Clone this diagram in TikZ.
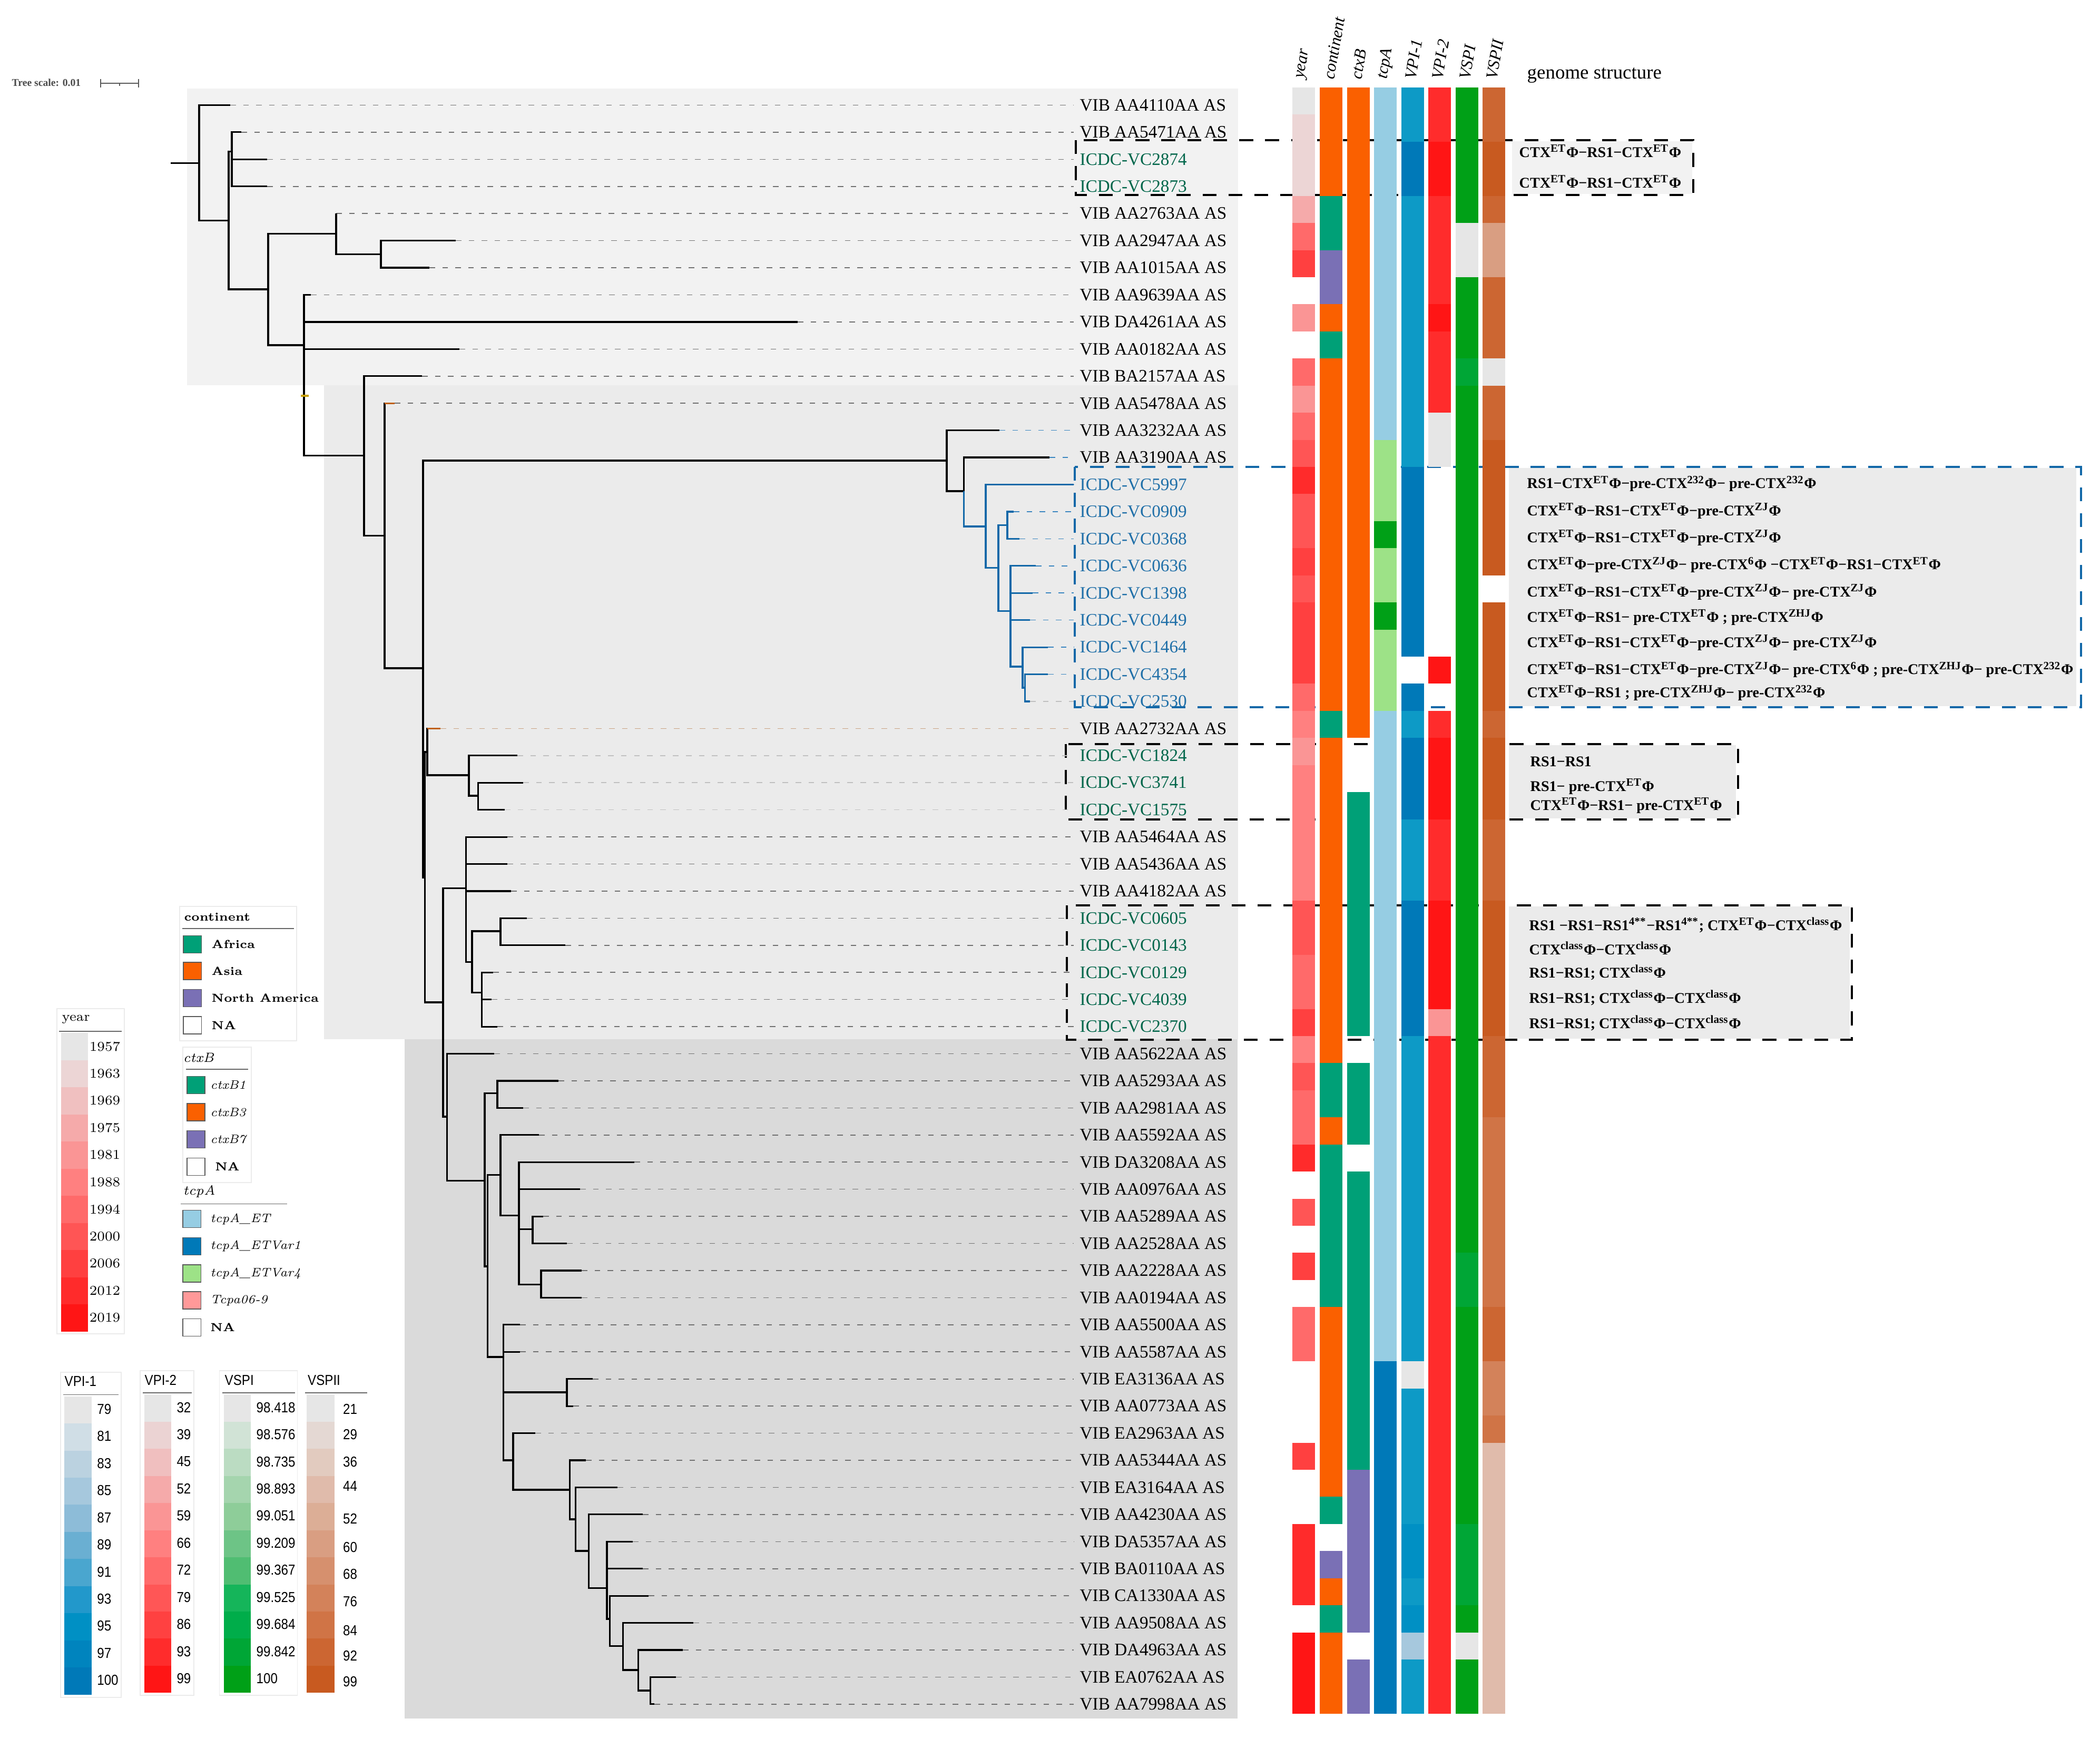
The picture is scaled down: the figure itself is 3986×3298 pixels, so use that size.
\documentclass[tikz,border=0pt]{standalone}
\usepackage{fontspec}
\newfontfamily\labfont{Liberation Serif}
\newfontfamily\legsans[FakeStretch=0.88]{Liberation Sans}
\newcommand\ctxphi[1]{CTX\textsuperscript{#1}Φ}
\newcommand\prephi[1]{pre-CTX\textsuperscript{#1}Φ}
\newcommand\hmrun[4]{\fill[fill=#4] (#1,{166+(#2-1)*51.43}) rectangle ({#1+43},{166+#3*51.43});}
\definecolor{bgA}{HTML}{F2F2F2}
\definecolor{bgB}{HTML}{EBEBEB}
\definecolor{bgC}{HTML}{DADADA}
\definecolor{icdcg}{HTML}{00664A}
\definecolor{icdcb}{HTML}{1F6FA8}
\definecolor{clb}{HTML}{1268A8}
\definecolor{brn}{HTML}{C06010}
\definecolor{ylw}{HTML}{C8A000}
\definecolor{ldk}{HTML}{707070}
\definecolor{ldb}{HTML}{3A86C0}
\definecolor{ldt}{HTML}{C8A080}
\definecolor{ldl}{HTML}{C0C0C0}
% year scale
\definecolor{yr1}{HTML}{E6E6E6}\definecolor{yr2}{HTML}{ECD5D5}\definecolor{yr3}{HTML}{F0C0C0}
\definecolor{yr4}{HTML}{F5AAAA}\definecolor{yr5}{HTML}{FA9595}\definecolor{yr6}{HTML}{FF8080}
\definecolor{yr7}{HTML}{FF6A6A}\definecolor{yr8}{HTML}{FF5555}\definecolor{yr9}{HTML}{FF4040}
\definecolor{yr10}{HTML}{FF2B2B}\definecolor{yr11}{HTML}{FF1515}
% categories
\definecolor{caf}{HTML}{00A077}\definecolor{cas}{HTML}{FA6000}\definecolor{cna}{HTML}{7A70B5}
\definecolor{tET}{HTML}{96CDE3}\definecolor{tV1}{HTML}{0079B8}\definecolor{tV4}{HTML}{9DE287}
\definecolor{tDG}{HTML}{00A017}\definecolor{tP}{HTML}{FF9999}
% VPI-1
\definecolor{hb}{HTML}{0D9AC6}
\definecolor{vb1}{HTML}{E6E6E6}\definecolor{vb2}{HTML}{D0DEE6}\definecolor{vb3}{HTML}{BBD2E0}
\definecolor{vb4}{HTML}{A6C8DD}\definecolor{vb5}{HTML}{8DBCD8}\definecolor{vb6}{HTML}{6AAFD2}
\definecolor{vb7}{HTML}{4AA6CF}\definecolor{vb8}{HTML}{2298CB}\definecolor{vb9}{HTML}{0090C4}
\definecolor{vb10}{HTML}{0084BE}\definecolor{vb11}{HTML}{0079B8}
% VPI-2
\definecolor{vr1}{HTML}{E6E6E6}\definecolor{vr2}{HTML}{EBD3D3}\definecolor{vr3}{HTML}{F0BFBF}
\definecolor{vr4}{HTML}{F5AAAA}\definecolor{vr5}{HTML}{FA9595}\definecolor{vr6}{HTML}{FF8080}
\definecolor{vr7}{HTML}{FF6B6B}\definecolor{vr8}{HTML}{FF5656}\definecolor{vr9}{HTML}{FF4141}
\definecolor{vr10}{HTML}{FF2C2C}\definecolor{vr11}{HTML}{FF1515}
% VSPI
\definecolor{vg1}{HTML}{E6E6E6}\definecolor{vg2}{HTML}{D1E3D6}\definecolor{vg3}{HTML}{BBDCC2}
\definecolor{vg4}{HTML}{A5D5AE}\definecolor{vg5}{HTML}{8ECD99}\definecolor{vg6}{HTML}{6DC486}
\definecolor{vg7}{HTML}{50BD72}\definecolor{vg8}{HTML}{15B55A}\definecolor{vg9}{HTML}{00AD4A}
\definecolor{vg10}{HTML}{00A636}\definecolor{vg11}{HTML}{00A017}
% VSPII
\definecolor{vo1}{HTML}{E6E6E6}\definecolor{vo2}{HTML}{E4D8D3}\definecolor{vo3}{HTML}{E2CBBF}
\definecolor{vo4}{HTML}{E0BBAB}\definecolor{vo5}{HTML}{DCAE96}\definecolor{vo6}{HTML}{D99E82}
\definecolor{vo7}{HTML}{D6906E}\definecolor{vo8}{HTML}{D3825A}\definecolor{vo9}{HTML}{D07446}
\definecolor{vo10}{HTML}{CC6632}\definecolor{vo11}{HTML}{C85A20}
\begin{document}
\begin{tikzpicture}[x=0.01cm, y=-0.01cm,
    br/.style={line width=0.9pt, line join=miter},
    leader/.style={line width=0.45pt, dash pattern=on 3pt off 4pt},
    lab/.style={anchor=west, inner sep=0pt, font=\labfont\fontsize{9.45}{11}\selectfont},
    hd/.style={anchor=west, rotate=80, inner sep=0pt, font=\labfont\itshape\fontsize{9}{10}\selectfont},
    ann/.style={anchor=west, inner sep=0pt, font=\labfont\bfseries\fontsize{8}{9}\selectfont},
    gbox/.style={dash pattern=on 7.5pt off 6.5pt, line width=0.9pt},
    sw/.style={draw=black!65, line width=0.4pt},
    legbox/.style={draw=black!8, fill=white, line width=0.5pt},
    legline/.style={draw=black!60, line width=0.4pt},
    lsans/.style={anchor=west, inner sep=0pt, font=\legsans\fontsize{7.8}{9}\selectfont}
  ]
  \useasboundingbox (0,0) rectangle (3986,3298);
  \fill[white] (0,0) rectangle (3986,3298);

  % clade shading
  \fill[bgA] (355,168) rectangle (2350,731);
  \fill[bgB] (615,731) rectangle (2350,1972);
  \fill[bgC] (768,1972) rectangle (2349,3261);

  % genome structure boxes
  \fill[bgA] (2870,268) rectangle (3212,368);
  \draw[gbox] (2042,266) rectangle (3214,370);
  \fill[bgB] (2864,888) rectangle (3941,1340);
  \draw[gbox, draw=clb] (2040,886) rectangle (3950,1342);
  \fill[bgB] (2864,1414) rectangle (3295,1553);
  \draw[gbox] (2023,1412) rectangle (3299,1555);
  \fill[bgB] (2864,1720) rectangle (3511,1971);
  \draw[gbox] (2025,1718) rectangle (3515,1973);

  % tree scale
  \node[anchor=west, inner sep=0pt, text=black!70, font=\labfont\bfseries\fontsize{5.6}{6}\selectfont] (tscale) at (22,157) {Tree scale: 0.01};
  \coordinate (sbl) at (191,158);
  \coordinate (sbm) at (227,158);
  \coordinate (sbr) at (263,158);
  \draw[black!65, line width=0.5pt] (sbl) -- (sbr);
  \draw[black!65, line width=0.5pt] (sbl) ++(0,-8) -- ++(0,16) (sbr) ++(0,-8) -- ++(0,16) (sbm) -- ++(0,5);

  % leaves
  \foreach \rw/\tipx/\lname/\lcol/\dcol in {
    1/437/VIB AA4110AA AS/black/ldk, 2/458/VIB AA5471AA AS/black/ldk,
    3/507/ICDC-VC2874/icdcg/ldk, 4/507/ICDC-VC2873/icdcg/ldk,
    5/638/VIB AA2763AA AS/black/ldk, 6/865/VIB AA2947AA AS/black/ldk,
    7/815/VIB AA1015AA AS/black/ldk, 8/590/VIB AA9639AA AS/black/ldk,
    9/1514/VIB DA4261AA AS/black/ldk, 10/872/VIB AA0182AA AS/black/ldk,
    11/801/VIB BA2157AA AS/black/ldk, 12/749/VIB AA5478AA AS/black/ldk,
    13/1897/VIB AA3232AA AS/black/ldb, 14/1992/VIB AA3190AA AS/black/ldb,
    15/2038/ICDC-VC5997/icdcb/ldb, 16/1924/ICDC-VC0909/icdcb/ldb,
    17/1935/ICDC-VC0368/icdcb/ldb, 18/1966/ICDC-VC0636/icdcb/ldb,
    19/1960/ICDC-VC1398/icdcb/ldb, 20/1955/ICDC-VC0449/icdcb/ldb,
    21/1989/ICDC-VC1464/icdcb/ldb, 22/1989/ICDC-VC4354/icdcb/ldb,
    23/1955/ICDC-VC2530/icdcb/ldl, 24/836/VIB AA2732AA AS/black/ldt,
    25/982/ICDC-VC1824/icdcg/ldl, 26/993/ICDC-VC3741/icdcg/ldl,
    27/958/ICDC-VC1575/icdcg/ldl, 28/963/VIB AA5464AA AS/black/ldk,
    29/963/VIB AA5436AA AS/black/ldk, 30/970/VIB AA4182AA AS/black/ldk,
    31/1000/ICDC-VC0605/icdcg/ldk, 32/1073/ICDC-VC0143/icdcg/ldk,
    33/936/ICDC-VC0129/icdcg/ldk, 34/933/ICDC-VC4039/icdcg/ldk,
    35/944/ICDC-VC2370/icdcg/ldk, 36/938/VIB AA5622AA AS/black/ldk,
    37/1060/VIB AA5293AA AS/black/ldk, 38/993/VIB AA2981AA AS/black/ldk,
    39/1023/VIB AA5592AA AS/black/ldk, 40/1204/VIB DA3208AA AS/black/ldk,
    41/1101/VIB AA0976AA AS/black/ldk, 42/1031/VIB AA5289AA AS/black/ldk,
    43/1076/VIB AA2528AA AS/black/ldk, 44/1104/VIB AA2228AA AS/black/ldk,
    45/1104/VIB AA0194AA AS/black/ldk, 46/987/VIB AA5500AA AS/black/ldk,
    47/987/VIB AA5587AA AS/black/ldk, 48/1125/VIB EA3136AA AS/black/ldk,
    49/1088/VIB AA0773AA AS/black/ldk, 50/1016/VIB EA2963AA AS/black/ldk,
    51/1112/VIB AA5344AA AS/black/ldk, 52/1172/VIB EA3164AA AS/black/ldk,
    53/1220/VIB AA4230AA AS/black/ldk, 54/1201/VIB DA5357AA AS/black/ldk,
    55/1220/VIB BA0110AA AS/black/ldk, 56/1231/VIB CA1330AA AS/black/ldk,
    57/1316/VIB AA9508AA AS/black/ldk, 58/1296/VIB DA4963AA AS/black/ldk,
    59/1283/VIB EA0762AA AS/black/ldk, 60/1242/VIB AA7998AA AS/black/ldk}{
    \pgfmathsetmacro\yy{199.5+(\rw-1)*51.43}
    \coordinate (t\rw) at (\tipx,\yy);
    \node[lab, text=\lcol] (l\rw) at (2049,\yy) {\lname};
    \draw[leader, draw=\dcol] (t\rw) -- ([xshift=-3pt]l\rw.west);
  }

  % inner nodes of the tree
  \foreach \nd/\nx/\ny in {root/378/309.7, nA/434/418.9, nA1/440/287.8, nB/509/549,
    nC/638/443.4, nC1/723/482.7, nD/577/655, nE/691/864.3, nF/730/1016.6, nG/803/1268,
    nH/1797/874, nH2/1829.5/932, nK/1871/999, nL/1895/1077.8, nM/1912/996.7,
    nN/1918/1159.7, nO/1941/1265, nP/1945.5/1305, nR/806.6/1665, nQ/811/1427,
    nJ/890/1471, nJ2/907.7/1510, nS/841/1902, nT/884.7/1685.5, nV/896/1825.5,
    nW/950/1767, nX/914.6/1883.6, nU/848.5/2119, nY/920/2240.6, nZ1/944/2074.7,
    nY2/925.5/2403, nZ2/950/2229.5, nZ3/985/2306.8, nZ4/1011/2332.6, nZ5/1027/2437.5,
    nY3/955.8/2575, nZ6/1076/2642, nY4/974/2771, nY5/1081.6/2827, nY6/1092.4/2883,
    nY7/1117.4/2943, nY8/1152/3013.6, nY9/1157.5/3072, nY10/1182.4/3123.6,
    nY11/1211.7/3169, nY12/1234.5/3208}
    {\coordinate (\nd) at (\nx,\ny);}
  \coordinate (rstem) at (324,309.7);
  \draw[br] (rstem) -- (root);

  % branches
  \foreach \pa/\ch in {root/t1, root/nA, nA/nA1, nA/nB, nA1/t2, nA1/t3, nA1/t4,
    nB/nC, nB/nD, nC/t5, nC/nC1, nC1/t6, nC1/t7, nD/t8, nD/t9, nD/t10, nD/nE,
    nE/t11, nE/nF, nF/t12, nF/nG, nG/nH, nG/nR, nH/t13, nH/nH2, nH2/t14,
    nR/nQ, nR/nS, nQ/t24, nQ/nJ, nJ/t25, nJ/nJ2, nJ2/t26, nJ2/t27,
    nS/nT, nS/nU, nT/t28, nT/t29, nT/t30, nT/nV, nV/nW, nV/nX, nW/t31, nW/t32,
    nX/t33, nX/t34, nX/t35, nU/t36, nU/nY, nY/nZ1, nY/nY2, nZ1/t37, nZ1/t38,
    nY2/nZ2, nY2/nY3, nZ2/t39, nZ2/nZ3, nZ3/t40, nZ3/t41, nZ3/nZ4, nZ3/nZ5,
    nZ4/t42, nZ4/t43, nZ5/t44, nZ5/t45, nY3/t46, nY3/t47, nY3/nZ6, nY3/nY4,
    nZ6/t48, nZ6/t49, nY4/t50, nY4/nY5, nY5/t51, nY5/nY6, nY6/t52, nY6/nY7,
    nY7/t53, nY7/nY8, nY8/t54, nY8/t55, nY8/nY9, nY9/t56, nY9/nY10,
    nY10/t57, nY10/nY11, nY11/t58, nY11/nY12, nY12/t59, nY12/t60}
    {\draw[br] (\pa) |- (\ch);}
  \foreach \pa/\ch in {nH2/nK, nK/t15, nK/nL, nL/nM, nL/nN, nM/t16, nM/t17,
    nN/t18, nN/t19, nN/t20, nN/nO, nO/t21, nO/nP, nP/t22, nP/t23}
    {\draw[br, clb] (\pa) |- (\ch);}
  \draw[br, brn] (nF |- t12) -- (t12);
  \draw[br, brn] (nQ |- t24) -- (t24);
  \coordinate (dy1) at (571,751);
  \coordinate (dy2) at (586,751);
  \draw[line width=1.1pt, ylw] (dy1) -- (dy2);

  % heatmap
  \foreach \ra/\rb/\hc in {1/1/yr1,2/4/yr2,5/5/yr4,6/6/yr7,7/7/yr9,9/9/yr5,11/11/yr7,
    12/12/yr5,13/13/yr7,14/14/yr8,15/15/yr10,16/17/yr8,18/18/yr9,19/19/yr8,20/22/yr9,
    23/23/yr7,24/24/yr6,25/25/yr5,26/30/yr6,31/32/yr8,33/34/yr7,35/35/yr9,36/36/yr6,
    37/37/yr8,38/39/yr7,40/40/yr10,42/42/yr8,44/44/yr9,46/47/yr7,51/51/yr9,
    54/56/yr10,58/60/yr11}
    {\hmrun{2453}{\ra}{\rb}{\hc}}
  \foreach \ra/\rb/\hc in {1/4/cas,5/6/caf,7/8/cna,9/9/cas,10/10/caf,11/23/cas,
    24/24/caf,25/36/cas,37/38/caf,39/39/cas,40/45/caf,46/52/cas,53/53/caf,
    55/55/cna,56/56/cas,57/57/caf,58/60/cas}
    {\hmrun{2505}{\ra}{\rb}{\hc}}
  \foreach \ra/\rb/\hc in {1/24/cas,27/35/caf,37/39/caf,41/51/caf,52/57/cna,59/60/cna}
    {\hmrun{2557}{\ra}{\rb}{\hc}}
  \foreach \ra/\rb/\hc in {1/13/tET,14/16/tV4,17/17/tDG,18/19/tV4,20/20/tDG,
    21/23/tV4,24/47/tET,48/60/tV1}
    {\hmrun{2608}{\ra}{\rb}{\hc}}
  \foreach \ra/\rb/\hc in {1/2/hb,3/4/vb11,5/14/hb,15/21/vb11,23/23/vb11,24/24/hb,
    25/27/vb11,28/30/hb,31/35/vb11,36/47/hb,48/48/vb1,49/53/hb,54/55/vb9,
    56/56/hb,57/57/vb9,58/58/vb4,59/60/hb}
    {\hmrun{2660}{\ra}{\rb}{\hc}}
  \foreach \ra/\rb/\hc in {1/2/vr10,3/4/vr11,5/8/vr10,9/9/vr11,10/12/vr10,13/14/vr1,
    22/22/vr11,24/24/vr10,25/27/vr11,28/30/vr10,31/34/vr11,35/35/vr5,36/60/vr10}
    {\hmrun{2711}{\ra}{\rb}{\hc}}
  \foreach \ra/\rb/\hc in {1/5/vg11,6/7/vg1,8/10/vg11,11/11/vg10,12/43/vg11,
    44/45/vg10,46/53/vg11,54/56/vg10,57/57/vg11,58/58/vg1,59/60/vg11}
    {\hmrun{2763}{\ra}{\rb}{\hc}}
  \foreach \ra/\rb/\hc in {1/2/vo10,3/4/vo11,5/5/vo10,6/7/vo6,8/10/vo10,11/11/vo1,
    12/13/vo10,14/18/vo11,20/23/vo11,24/24/vo10,25/27/vo11,28/30/vo10,31/35/vo11,
    36/38/vo10,39/45/vo9,46/47/vo10,48/49/vo8,50/50/vo9,51/60/vo4}
    {\hmrun{2814}{\ra}{\rb}{\hc}}

  % column headers
  \foreach \cx/\hname in {2470/year, 2522/continent, 2574/ctxB, 2625/tcpA,
    2677/VPI-1, 2728/VPI-2, 2780/VSPI, 2831/VSPII}
    {\node[hd] at (\cx,150) {\hname};}
  \node[anchor=west, inner sep=0pt, font=\labfont\fontsize{10.5}{12}\selectfont] (gshead) at (2898,143) {genome structure};

  % genome structures
  \foreach \yy in {287,345}
    {\node[ann] at (2883,\yy) {\ctxphi{ET}−RS1−\ctxphi{ET}};}
  \foreach \yy/\gtxt in {
    918/{RS1−\ctxphi{ET}−\prephi{232}− \prephi{232}},
    970/{\ctxphi{ET}−RS1−\ctxphi{ET}−\prephi{ZJ}},
    1021/{\ctxphi{ET}−RS1−\ctxphi{ET}−\prephi{ZJ}},
    1072/{\ctxphi{ET}−\prephi{ZJ}− \prephi{6} −\ctxphi{ET}−RS1−\ctxphi{ET}},
    1124/{\ctxphi{ET}−RS1−\ctxphi{ET}−\prephi{ZJ}− \prephi{ZJ}},
    1172/{\ctxphi{ET}−RS1− \prephi{ET} ; \prephi{ZHJ}},
    1220/{\ctxphi{ET}−RS1−\ctxphi{ET}−\prephi{ZJ}− \prephi{ZJ}},
    1271/{\ctxphi{ET}−RS1−\ctxphi{ET}−\prephi{ZJ}− \prephi{6} ; \prephi{ZHJ}− \prephi{232}},
    1315/{\ctxphi{ET}−RS1 ; \prephi{ZHJ}− \prephi{232}}}
    {\node[ann] at (2898,\yy) {\gtxt};}
  \foreach \yy/\gtxt in {1445/{RS1−RS1}, 1493/{RS1− \prephi{ET}},
    1529/{\ctxphi{ET}−RS1− \prephi{ET}}}
    {\node[ann] at (2904,\yy) {\gtxt};}
  \foreach \yy/\gtxt in {
    1755/{RS1 −RS1−RS1\textsuperscript{4**}−RS1\textsuperscript{4**}; \ctxphi{ET}−\ctxphi{class}},
    1799/{\ctxphi{class}−\ctxphi{class}},
    1845/{RS1−RS1; \ctxphi{class}},
    1893/{RS1−RS1; \ctxphi{class}−\ctxphi{class}},
    1941/{RS1−RS1; \ctxphi{class}−\ctxphi{class}}}
    {\node[ann] at (2902,\yy) {\gtxt};}

  % legend: year
  \draw[legbox] (108,1914) rectangle (236,2531);
  \node[anchor=west, inner sep=0pt, font=\fontsize{7.2}{8}\selectfont] (yrtitle) at (117,1934) {year};
  \draw[legline] (112,1957) -- (231,1957);
  \foreach \ii/\hc/\yrs in {0/yr1/1957, 1/yr2/1963, 2/yr3/1969, 3/yr4/1975, 4/yr5/1981,
    5/yr6/1988, 6/yr7/1994, 7/yr8/2000, 8/yr9/2006, 9/yr10/2012, 10/yr11/2019}{
    \fill[fill=\hc] (116,{1960+51.5*\ii}) rectangle (167,{1960+51.5*(\ii+1)});
    \node[anchor=east, inner sep=0pt, font=\fontsize{7.3}{8}\selectfont] at (229,{1985.7+51.5*\ii}) {\yrs};
  }

  % legend: continent
  \draw[legbox] (341,1720) rectangle (563,1975);
  \node[anchor=west, inner sep=0pt, font=\bfseries\fontsize{6.3}{7}\selectfont] (cttitle) at (349,1740) {continent};
  \draw[legline] (346,1762) -- (558,1762);
  \foreach \yc/\hc/\ename in {1792/caf/Africa, 1842.5/cas/Asia, 1894/cna/North America, 1945.7/white/NA}{
    \draw[sw, fill=\hc] (348,{\yc-16.5}) rectangle (382.6,{\yc+16.5});
    \node[anchor=west, inner sep=0pt, font=\bfseries\fontsize{6.3}{7}\selectfont] at (401,\yc) {\ename};
  }

  % legend: ctxB
  \draw[legbox] (347,1987) rectangle (477,2244);
  \node[anchor=west, inner sep=0pt, font=\itshape\fontsize{7.2}{8}\selectfont] (cxtitle) at (347,2007) {ctxB};
  \draw[legline] (353,2029) -- (471,2029);
  \foreach \yc/\hc/\ename in {2059/caf/ctxB1, 2110.5/cas/ctxB3, 2162/cna/ctxB7}{
    \draw[sw, fill=\hc] (355,{\yc-16.5}) rectangle (389,{\yc+16.5});
    \node[anchor=west, inner sep=0pt, font=\itshape\fontsize{6.6}{7}\selectfont] at (398.7,\yc) {\ename};
  }
  \draw[sw, fill=white] (355,2197.5) rectangle (389,2230.5);
  \node[anchor=west, inner sep=0pt, font=\bfseries\fontsize{6.3}{7}\selectfont] at (407.6,2214) {NA};

  % legend: tcpA
  \node[anchor=west, inner sep=0pt, font=\itshape\fontsize{7.2}{8}\selectfont] (tctitle) at (347,2261) {tcpA};
  \draw[legline] (343,2284.4) -- (545,2284.4);
  \foreach \yc/\hc/\ename in {2313/tET/tcpA\_ET, 2364.8/tV1/tcpA\_ETVar1,
    2416.4/tV4/tcpA\_ETVar4, 2467.5/tP/Tcpa06-9}{
    \draw[sw, fill=\hc] (347,{\yc-16.5}) rectangle (381.7,{\yc+16.5});
    \node[anchor=west, inner sep=0pt, font=\itshape\fontsize{6.6}{7}\selectfont] at (398.7,\yc) {\ename};
  }
  \draw[sw, fill=white] (347,2502.5) rectangle (381.7,2535.5);
  \node[anchor=west, inner sep=0pt, font=\bfseries\fontsize{6.3}{7}\selectfont] at (398.7,2519) {NA};

  % legend: VPI-1
  \draw[legbox] (115,2604) rectangle (230,3221);
  \node[lsans] (v1title) at (122,2621) {VPI-1};
  \draw[legline] (120,2646.4) -- (224.5,2646.4);
  \foreach \ii/\vv in {1/79, 2/81, 3/83, 4/85, 5/87, 6/89, 7/91, 8/93, 9/95, 10/97, 11/100}{
    \fill[fill=vb\ii] (122.4,{2598.15+51.45*\ii}) rectangle (174,{2649.6+51.45*\ii});
    \node[lsans] at (183.7,{2622.45+51.45*\ii}) {\vv};
  }

  % legend: VPI-2
  \draw[legbox] (266,2601) rectangle (368,3217);
  \node[lsans] (v2title) at (274,2619) {VPI-2};
  \draw[legline] (271,2643) -- (363.5,2643);
  \foreach \ii/\vv in {1/32, 2/39, 3/45, 4/52, 5/59, 6/66, 7/72, 8/79, 9/86, 10/93, 11/99}{
    \fill[fill=vr\ii] (274,{2594.95+51.45*\ii}) rectangle (325,{2646.4+51.45*\ii});
    \node[lsans] at (334.8,{2619.25+51.45*\ii}) {\vv};
  }

  % legend: VSPI
  \draw[legbox] (416.5,2601) rectangle (564.4,3217);
  \node[lsans] (vstitle) at (426,2619) {VSPI};
  \draw[legline] (422,2643) -- (560,2643);
  \foreach \ii/\vv in {1/98.418, 2/98.576, 3/98.735, 4/98.893, 5/99.051, 6/99.209,
    7/99.367, 8/99.525, 9/99.684, 10/99.842, 11/100}{
    \fill[fill=vg\ii] (425.4,{2594.95+51.45*\ii}) rectangle (476.4,{2646.4+51.45*\ii});
    \node[lsans] at (486,{2619.25+51.45*\ii}) {\vv};
  }

  % legend: VSPII
  \node[lsans] (vsiititle) at (583.5,2619) {VSPII};
  \draw[legline] (579,2643) -- (697,2643);
  \foreach \ii/\vv/\vy in {1/21/2673.9, 2/29/2721.9, 3/36/2773.7, 4/44/2820.4, 5/52/2882.2,
    6/60/2936.2, 7/68/2987.5, 8/76/3039.3, 9/84/3093.7, 10/92/3141.8, 11/99/3191.3}{
    \fill[fill=vo\ii] (582.3,{2594.95+51.45*\ii}) rectangle (634.6,{2646.4+51.45*\ii});
    \node[lsans] at (650.5,\vy) {\vv};
  }
\end{tikzpicture}
\end{document}
